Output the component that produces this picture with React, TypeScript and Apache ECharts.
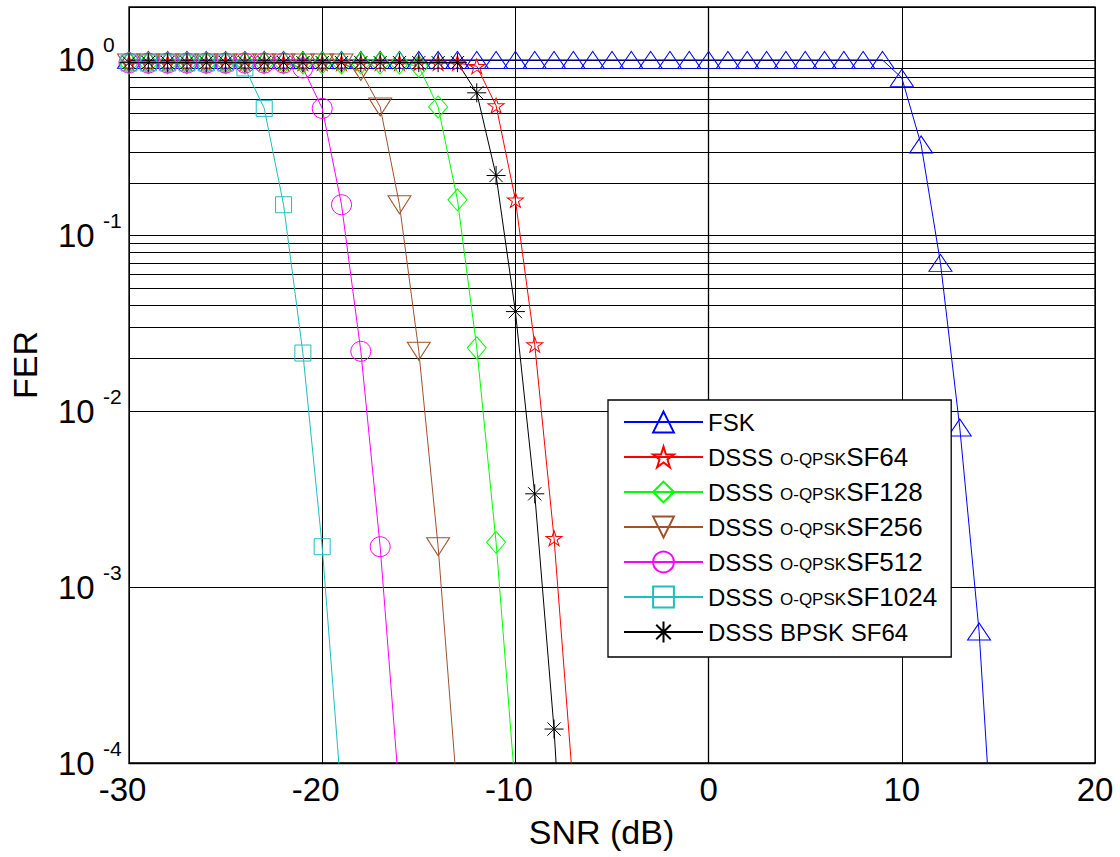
import React, { useEffect, useRef } from 'react';
import * as echarts from 'echarts';

const FONT = '"Liberation Sans", Arial, Helvetica, sans-serif';

const snr = [-30, -29, -28, -27, -26, -25, -24, -23, -22, -21, -20, -19, -18, -17, -16, -15, -14, -13, -12, -11, -10, -9, -8, -7, -6, -5, -4, -3, -2, -1, 0, 1, 2, 3, 4, 5, 6, 7, 8, 9, 10, 11, 12, 13, 14, 15];

const fsk = [1, 1, 1, 1, 1, 1, 1, 1, 1, 1, 1, 1, 1, 1, 1, 1, 1, 1, 1, 1, 1, 1, 1, 1, 1, 1, 1, 1, 1, 1, 1, 1, 1, 1, 1, 1, 1, 1, 1, 1, 0.79, 0.33, 0.07, 0.0081, 0.00056, 0.00001];
const sf64 = [0.96, 0.96, 0.96, 0.96, 0.96, 0.96, 0.96, 0.96, 0.96, 0.96, 0.96, 0.96, 0.96, 0.96, 0.96, 0.96, 0.96, 0.96, 0.92, 0.55, 0.16, 0.024, 0.0019, 0.00007];
const sf128 = [0.96, 0.96, 0.96, 0.96, 0.96, 0.96, 0.96, 0.96, 0.96, 0.96, 0.96, 0.96, 0.96, 0.96, 0.96, 0.92, 0.54, 0.16, 0.023, 0.0018, 0.00007];
const sf256 = [0.96, 0.96, 0.96, 0.96, 0.96, 0.96, 0.96, 0.96, 0.96, 0.96, 0.96, 0.96, 0.86, 0.54, 0.15, 0.022, 0.0017, 0.000065];
const sf512 = [0.96, 0.96, 0.96, 0.96, 0.96, 0.96, 0.96, 0.96, 0.96, 0.9, 0.53, 0.15, 0.022, 0.0017, 0.000065];
const sf1024 = [0.96, 0.96, 0.96, 0.96, 0.96, 0.96, 0.9, 0.53, 0.15, 0.0215, 0.0017, 0.000063];
const bpsk64 = [0.965, 0.965, 0.965, 0.965, 0.965, 0.965, 0.965, 0.965, 0.965, 0.965, 0.965, 0.965, 0.965, 0.965, 0.965, 0.965, 0.965, 0.965, 0.65, 0.22, 0.037, 0.0034, 0.000156, 0.0000023];

const seriesNames = ['FSK', 'DSSS O-QPSKSF64', 'DSSS O-QPSKSF128', 'DSSS O-QPSKSF256', 'DSSS O-QPSKSF512', 'DSSS O-QPSKSF1024', 'DSSS BPSK SF64'];
const seriesColors = ['#0000ff', '#ff0000', '#00ff00', '#a0522d', '#ff00ff', '#1fbfbf', '#000000'];

const minorGrid = [
  0.0002, 0.0003, 0.0004, 0.0005, 0.0006, 0.0007, 0.0008, 0.0009,
  0.002, 0.003, 0.004, 0.005, 0.006, 0.007, 0.008, 0.009,
  0.02, 0.03, 0.04, 0.05, 0.06, 0.07, 0.08, 0.09,
  0.2, 0.3, 0.4, 0.5, 0.6, 0.7, 0.8, 0.9,
];

const STAR = 'path://M0,-100L22.45,-30.9L95.1,-30.9L36.3,11.8L58.8,80.9L0,38.2L-58.8,80.9L-36.3,11.8L-95.1,-30.9L-22.45,-30.9Z';
const ASTER = 'path://M0,-100L0,100M-100,0L100,0M-70,-70L70,70M-70,70L70,-70';
const TRI_DOWN = 'path://M0,0L200,0L100,160Z';

function decadeExponent(v: number): number | null {
  const l = Math.log10(v);
  const e = Math.round(l);
  if (Math.abs(l - e) > 1e-3) return null;
  return e;
}

export default function App() {
  const ref = useRef<HTMLDivElement>(null);

  useEffect(() => {
    document.body.style.margin = '0';
    if (!ref.current) return;
    const chart = echarts.init(ref.current, null, { renderer: 'svg' });

    const allY = [fsk, sf64, sf128, sf256, sf512, sf1024, bpsk64];
    const symbols: any[] = ['triangle', STAR, 'diamond', TRI_DOWN, 'circle', 'rect', ASTER];
    const sizes: any[] = [[23, 17], [16, 15], [19, 22], [23, 18], 20, 16, 19];

    const series: any[] = [
      {
        name: 'gridlines',
        type: 'line',
        data: [],
        silent: true,
        z: 1,
        markLine: {
          silent: true,
          z: 1,
          symbol: ['none', 'none'],
          label: { show: false },
          emphasis: { disabled: true },
          lineStyle: { color: '#000', width: 1, type: 'solid' },
          data: minorGrid.map((v) => ({ yAxis: v })),
        },
      },
    ];

    seriesNames.forEach((name, k) => {
      series.push({
        name,
        type: 'line',
        data: allY[k].map((v, i) => [snr[i], v]),
        symbol: symbols[k],
        symbolSize: sizes[k],
        showSymbol: true,
        lineStyle: { color: seriesColors[k], width: 1 },
        itemStyle: { color: 'rgba(0,0,0,0)', borderColor: seriesColors[k], borderWidth: 1 },
        emphasis: { disabled: true },
        clip: true,
        z: 3,
      });
    });

    const option: any = {
      animation: false,
      backgroundColor: '#ffffff',
      textStyle: { fontFamily: FONT },
      grid: {
        left: 129,
        right: 25,
        top: 7,
        bottom: 94,
        show: true,
        borderColor: '#000',
        borderWidth: 1.3,
        backgroundColor: 'transparent',
        outerBoundsMode: 'none',
      },
      xAxis: {
        type: 'value',
        min: -30,
        max: 20,
        interval: 10,
        name: 'SNR (dB)',
        nameLocation: 'middle',
        nameGap: 52,
        nameTextStyle: { fontSize: 34, color: '#000', fontFamily: FONT, lineHeight: 34, padding: [0, 21, 0, 0] },
        axisLine: { show: true, lineStyle: { color: '#000', width: 1.3 } },
        axisTick: { show: false },
        splitLine: { show: true, lineStyle: { color: '#000', width: 1 } },
        axisLabel: {
          margin: 10,
          formatter: (v: number) => (v < 0 ? `{n|${v}}` : `{p|${v}}`),
          rich: {
            n: { fontSize: 33, lineHeight: 33, color: '#000', fontFamily: FONT, padding: [0, 13, 0, 0] },
            p: { fontSize: 33, lineHeight: 33, color: '#000', fontFamily: FONT },
          },
        },
      },
      yAxis: [
        {
          type: 'log',
          logBase: 10,
          min: 0.0001,
          max: 2,
          name: 'FER',
          nameLocation: 'middle',
          nameGap: 87,
          nameRotate: 90,
          nameTextStyle: { fontSize: 34, color: '#000', fontFamily: FONT, lineHeight: 34, padding: [0, 0, 0, 40] },
          axisLine: { show: true, lineStyle: { color: '#000', width: 1.3 } },
          axisTick: { show: false },
          splitLine: { show: true, lineStyle: { color: '#000', width: 1 } },
          axisLabel: {
            align: 'left',
            margin: 71,
            showMinLabel: true,
            fontSize: 33,
            lineHeight: 33,
            color: '#000',
            fontFamily: FONT,
            formatter: (v: number) => (decadeExponent(v) === null ? '' : '10'),
          },
        },
        {
          type: 'log',
          logBase: 10,
          min: 0.0001,
          max: 2,
          position: 'left',
          offset: 0,
          axisLine: { show: false },
          axisTick: { show: false },
          splitLine: { show: false },
          axisLabel: {
            align: 'left',
            margin: 26,
            showMinLabel: true,
            fontSize: 21,
            lineHeight: 30,
            color: '#000',
            fontFamily: FONT,
            formatter: (v: number) => {
              const e = decadeExponent(v);
              return e === null ? '' : `${e}\n `;
            },
          },
        },
      ],
      legend: {
        data: seriesNames,
        orient: 'vertical',
        left: 608,
        top: 400,
        padding: [9, 14, 12, 15],
        itemGap: 9,
        itemWidth: 79,
        itemHeight: 26,
        backgroundColor: '#ffffff',
        borderColor: '#000',
        borderWidth: 1.3,
        borderRadius: 0,
        selectedMode: false,
        formatter: (name: string) => {
          if (name.indexOf('O-QPSK') >= 0) {
            const parts = name.split('O-QPSK');
            return `{a|${parts[0]}}{b|O-QPSK}{c|${parts[1]}}`;
          }
          return name;
        },
        textStyle: {
          color: '#000',
          fontFamily: FONT,
          fontSize: 24,
          lineHeight: 26,
          rich: {
            a: { fontSize: 24, lineHeight: 26, color: '#000', fontFamily: FONT, verticalAlign: 'middle' },
            b: { fontSize: 17, lineHeight: 26, color: '#000', fontFamily: FONT, verticalAlign: 'middle', padding: [5, 0, 0, 0] },
            c: { fontSize: 26, lineHeight: 26, color: '#000', fontFamily: FONT, verticalAlign: 'middle' },
          },
        },
      },
      series,
    };

    chart.setOption(option);
    return () => {
      chart.dispose();
    };
  }, []);

  return <div ref={ref} style={{ width: 1120, height: 857 }} />;
}
